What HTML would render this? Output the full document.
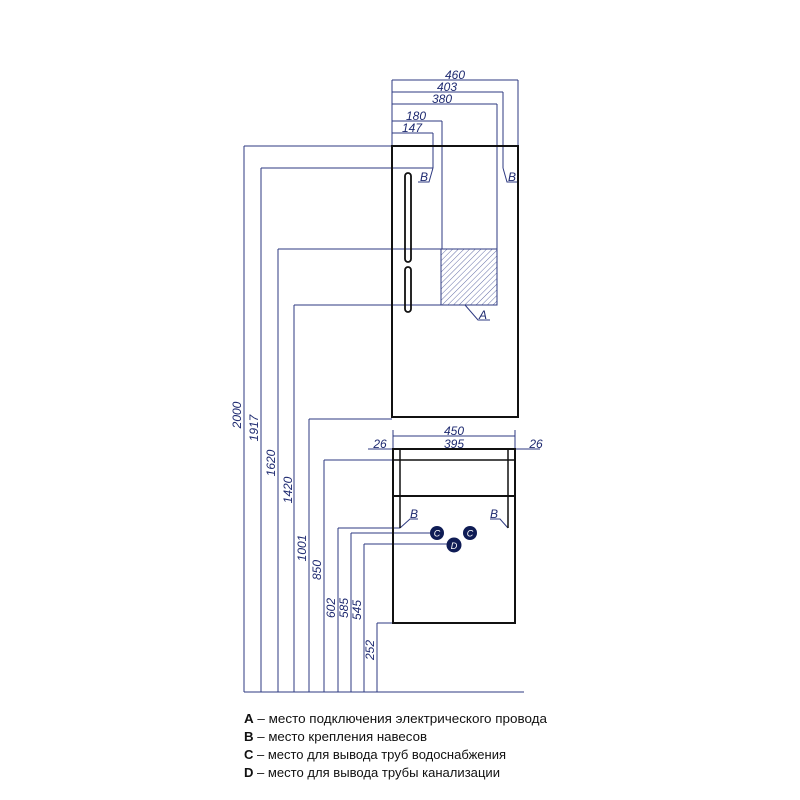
<!DOCTYPE html>
<html><head><meta charset="utf-8"><style>html,body{margin:0;padding:0;background:#fff}svg{display:block}</style></head>
<body>
<svg width="800" height="800" viewBox="0 0 800 800" xmlns="http://www.w3.org/2000/svg">
<defs>
<pattern id="h" width="4" height="4" patternUnits="userSpaceOnUse" patternTransform="rotate(45)">
<line x1="0" y1="0" x2="0" y2="4" stroke="#6670a8" stroke-width="1"/>
</pattern>
</defs>
<g stroke="#2e3a82" stroke-width="1" fill="none">
<line x1="244" y1="692" x2="524" y2="692"/>
<line x1="244" y1="146" x2="244" y2="692"/>
<line x1="261" y1="168" x2="261" y2="692"/>
<line x1="278" y1="249" x2="278" y2="692"/>
<line x1="294" y1="305" x2="294" y2="692"/>
<line x1="309" y1="419" x2="309" y2="692"/>
<line x1="324" y1="460" x2="324" y2="692"/>
<line x1="338" y1="528" x2="338" y2="692"/>
<line x1="351" y1="533" x2="351" y2="692"/>
<line x1="364" y1="544" x2="364" y2="692"/>
<line x1="377" y1="623" x2="377" y2="692"/>
<line x1="244" y1="146" x2="392" y2="146"/>
<line x1="261" y1="168" x2="433" y2="168"/>
<line x1="278" y1="249" x2="441" y2="249"/>
<line x1="294" y1="305" x2="441" y2="305"/>
<line x1="309" y1="419" x2="392" y2="419"/>
<line x1="324" y1="460" x2="393" y2="460"/>
<line x1="338" y1="528" x2="400" y2="528"/>
<line x1="351" y1="533" x2="430" y2="533"/>
<line x1="364" y1="544" x2="447" y2="544"/>
<line x1="377" y1="623" x2="393" y2="623"/>
<line x1="392" y1="80" x2="392" y2="146"/>
<line x1="518" y1="80" x2="518" y2="146"/>
<line x1="392" y1="80" x2="518" y2="80"/>
<line x1="392" y1="92" x2="503" y2="92"/>
<line x1="392" y1="104" x2="497" y2="104"/>
<line x1="392" y1="121" x2="442" y2="121"/>
<line x1="392" y1="133" x2="433" y2="133"/>
<line x1="503" y1="92" x2="503" y2="168"/>
<line x1="497" y1="104" x2="497" y2="249"/>
<line x1="442" y1="121" x2="442" y2="249"/>
<line x1="433" y1="133" x2="433" y2="168"/>
<polyline points="503,168 507,182 518,182"/>
<polyline points="433,168 429,182 418,182"/>
<polyline points="465,305 478,320 490,320"/>
<line x1="393" y1="436" x2="515" y2="436"/>
<line x1="393" y1="430" x2="393" y2="449"/>
<line x1="515" y1="430" x2="515" y2="449"/>
<line x1="400" y1="449" x2="508" y2="449"/>
<line x1="368" y1="449" x2="393" y2="449"/>
<line x1="515" y1="449" x2="540" y2="449"/>
<polyline points="400,528 410,519 418,519"/>
<polyline points="508,528 500,519 490,519"/>
</g>
<rect x="441" y="249" width="56" height="56" fill="url(#h)" stroke="#2e3a82" stroke-width="1"/>
<rect x="392" y="146" width="126" height="271" fill="none" stroke="#111" stroke-width="2"/>
<rect x="405" y="173" width="6" height="89" rx="3" fill="none" stroke="#111" stroke-width="1.8"/>
<rect x="405" y="267" width="6" height="45" rx="3" fill="none" stroke="#111" stroke-width="1.8"/>
<rect x="393" y="449" width="122" height="174" fill="none" stroke="#111" stroke-width="2"/>
<line x1="393" y1="460" x2="515" y2="460" stroke="#111" stroke-width="1.5"/>
<line x1="393" y1="496" x2="515" y2="496" stroke="#111" stroke-width="2"/>
<line x1="400" y1="449" x2="400" y2="528" stroke="#111" stroke-width="1.5"/>
<line x1="508" y1="449" x2="508" y2="528" stroke="#111" stroke-width="1.5"/>
<g fill="#0f1c55">
<circle cx="437" cy="533" r="7"/><circle cx="470" cy="533" r="7"/><circle cx="454" cy="545" r="7.5"/>
</g>
<g fill="#fff" font-family="Liberation Sans, sans-serif" font-style="italic" font-size="9" text-anchor="middle">
<text x="437" y="536.5">C</text><text x="470" y="536.5">C</text><text x="454" y="549">D</text>
</g>
<g fill="#1e2a70" font-family="Liberation Sans Narrow, Liberation Sans, sans-serif" font-style="italic" font-size="12" text-anchor="middle">
<text x="455" y="79">460</text>
<text x="447" y="91">403</text>
<text x="442" y="103">380</text>
<text x="416" y="120">180</text>
<text x="412" y="132">147</text>
<text x="424" y="181">B</text>
<text x="512" y="181">B</text>
<text x="483" y="319">A</text>
<text x="454" y="435">450</text>
<text x="454" y="448">395</text>
<text x="380" y="448">26</text>
<text x="536" y="448">26</text>
<text x="414" y="518">B</text>
<text x="494" y="518">B</text>
<text transform="translate(241,415) rotate(-90)">2000</text>
<text transform="translate(258,428) rotate(-90)">1917</text>
<text transform="translate(275,463) rotate(-90)">1620</text>
<text transform="translate(292,490) rotate(-90)">1420</text>
<text transform="translate(306,548) rotate(-90)">1001</text>
<text transform="translate(321,570) rotate(-90)">850</text>
<text transform="translate(335,608) rotate(-90)">602</text>
<text transform="translate(348,608) rotate(-90)">585</text>
<text transform="translate(361,610) rotate(-90)">545</text>
<text transform="translate(374,650) rotate(-90)">252</text>
</g>
<g fill="#111" font-family="Liberation Sans, sans-serif" font-size="12.5">
<text x="244" y="723" textLength="303" lengthAdjust="spacingAndGlyphs"><tspan font-weight="bold">A</tspan> – место подключения электрического провода</text>
<text x="244" y="741" textLength="183" lengthAdjust="spacingAndGlyphs"><tspan font-weight="bold">B</tspan> – место крепления навесов</text>
<text x="244" y="759" textLength="262" lengthAdjust="spacingAndGlyphs"><tspan font-weight="bold">C</tspan> – место для вывода труб водоснабжения</text>
<text x="244" y="777" textLength="256" lengthAdjust="spacingAndGlyphs"><tspan font-weight="bold">D</tspan> – место для вывода трубы канализации</text>
</g>
</svg>
</body></html>
